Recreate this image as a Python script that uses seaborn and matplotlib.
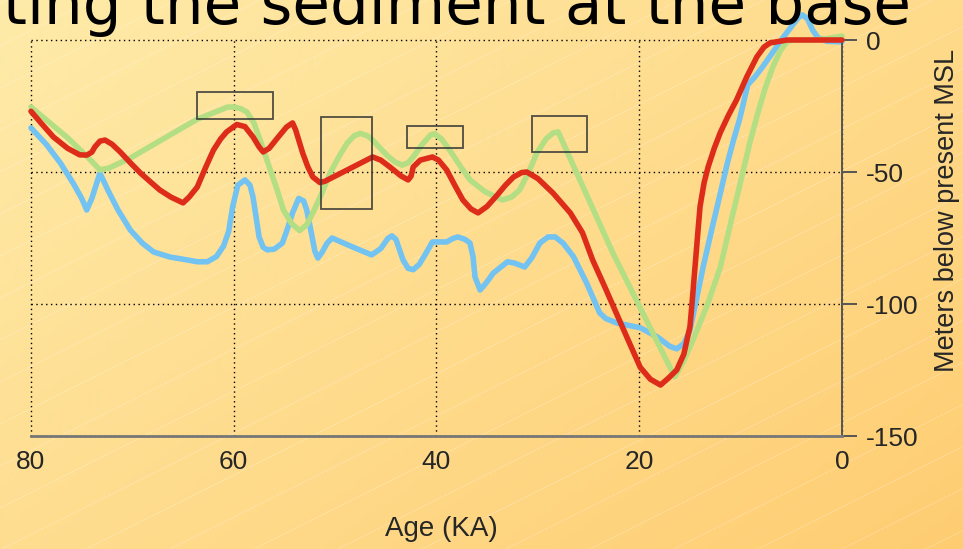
import numpy as np
import pandas as pd
import seaborn as sns
import matplotlib.pyplot as plt
from matplotlib.patches import Rectangle
from matplotlib.colors import to_rgb

# Sea level curves (age in KA, metres relative to present MSL)
red_age = [80, 79, 77.8, 76.4, 75.2, 74.5, 74.0, 73.7, 73.2, 72.7, 72.0, 71.2, 70.2, 69.2, 68.2,
           67.3, 66.2, 65.0, 64.4, 63.6, 62.8, 62.0, 61.3, 60.7, 59.7, 58.9, 58.1, 57.5, 57.1,
           56.5, 55.6, 54.8, 54.2, 53.9, 53.2, 52.7, 52.2, 51.5, 51.0, 48.8, 46.3, 45.5, 44.6,
           43.5, 42.8, 42.5, 42.3, 41.6, 40.4, 39.8, 39.0, 38.2, 37.4, 36.6, 35.9, 35.0, 34.0,
           33.2, 32.4, 31.6, 31.1, 30.0, 28.5, 26.8, 25.6, 24.6, 23.4, 22.2, 21.0, 19.9, 18.9,
           17.9, 17.1, 16.3, 15.6, 15.2, 15.0, 14.8, 14.5, 14.2, 14.0, 13.6, 13.2, 12.6, 12.0,
           11.2, 10.4, 9.4, 8.4, 7.7, 7.1, 5.4, 3.0, 0]
red_val = [-27, -31.5, -36.7, -41, -43.5, -43.6, -42.5, -40.5, -38.3, -37.9, -39.5, -42.4, -46.5, -50.4, -53.8,
           -56.8, -59.5, -61.7, -59.5, -55.7, -48.5, -41.7, -37.5, -34.8, -32, -32.8, -36.7, -40.5, -42.4,
           -41, -36.7, -33, -31.4, -34, -42.8, -48, -51.9, -54, -53.5, -49.2, -44.3, -45.5, -48.1,
           -51.5, -53, -51.5, -48.1, -45.5, -44.3, -45.5, -49.2, -55, -60.6, -64, -65.5, -63, -58.7,
           -55, -51.9, -50.2, -50, -52.5, -58, -65.5, -73, -83.3, -93.5, -104, -114.5, -124, -128.5,
           -130.7, -128, -125, -119, -112, -108.7, -100, -86, -72, -63, -54, -48, -41, -35,
           -28.5, -22.7, -14, -6.4, -2.7, -1.1, 0, 0, 0]

green_age = [80, 76.4, 74.5, 73.2, 72.3, 70.2, 66.3, 63.6, 61.3, 60.6, 60.0, 59.3, 58.7, 58.0,
             57.4, 56.9, 56.4, 55.7, 55.1, 54.3, 53.5, 52.8, 52.2, 51.3, 50.5, 49.6, 48.8, 48.1,
             47.5, 46.8, 46.3, 45.6, 44.9, 44.1, 43.4, 42.8, 42.3, 41.4, 40.6, 40.2, 39.5, 38.7,
             37.7, 36.7, 35.2, 33.5, 32.6, 31.8, 30.9, 30.1, 29.2, 28.5, 28.0, 22.6, 16.5, 15.6,
             14.7, 13.3, 12.0, 10.9, 9.8, 9.1, 8.4, 7.6, 6.8, 6.1, 5.4, 4.8, 3.0, 1.5, 0]
green_val = [-25.4, -37, -44, -49.2, -48.5, -44.7, -36, -30, -26.5, -25.4, -25.4, -26, -27.3, -31.5,
             -37.9, -43.5, -49.2, -57, -64.4, -69.5, -72.2, -70, -65.5, -58, -50.4, -44, -39, -36.2,
             -35.4, -36.3, -37.9, -40.8, -43.6, -46.2, -47.4, -46.5, -44.3, -39.5, -36, -35.5, -37.5, -41.7,
             -47.5, -53, -57.5, -60.6, -59.5, -56.8, -50, -42.8, -37.5, -35.2, -34.8, -80.7, -127.6, -121.5,
             -113.6, -100.5, -86, -68, -50.4, -39, -29, -18.5, -10, -4.2, -0.5, 0, 0, 0.5, 1.5]

blue_age = [80, 78.5, 77.1, 75.8, 75.0, 74.5, 74.0, 73.2, 72.4, 71.4, 70.2, 69.0, 67.9, 66.3,
            64.6, 63.6, 62.6, 61.7, 61.0, 60.5, 60.1, 59.6, 58.9, 58.4, 58.1, 57.8, 57.5, 57.1,
            56.7, 56.0, 55.2, 54.7, 54.2, 53.6, 53.1, 52.8, 52.4, 52.0, 51.7, 51.3, 50.8, 50.3,
            48.4, 46.4, 45.5, 44.8, 44.4, 44.0, 43.6, 43.3, 42.8, 42.3, 41.7, 41.0, 40.4, 39.0,
            38.4, 37.9, 37.2, 36.7, 36.4, 36.2, 35.7, 35.1, 34.4, 33.0, 32.3, 31.3, 30.6, 29.8,
            29.0, 28.3, 27.5, 26.5, 25.2, 23.9, 23.3, 22.2, 19.9, 18.2, 17.0, 16.3, 15.6, 15.0,
            14.4, 13.7, 12.8, 12.0, 11.3, 10.7, 10.1, 9.3, 8.6, 7.8, 6.8, 5.8, 4.8, 4.3, 3.9,
            3.4, 2.9, 2.4, 1.5, 0]
blue_val = [-33.3, -39.5, -46.6, -54.5, -60, -64.4, -60, -50.4, -57, -64.5, -72, -77, -80.3, -82.2,
            -83.3, -84, -84, -82, -78, -72.5, -63, -55, -53, -55, -59.5, -67, -74.6, -78.5,
            -79.5, -79.2, -76.9, -71.5, -65.5, -60, -61, -64.4, -72, -80, -82.6, -80.5, -77, -75,
            -78.2, -81.4, -79, -75.2, -74.2, -75.5, -80, -83.3, -86.5, -87, -85, -80.5, -76.5, -76.5,
            -75.2, -74.6, -75.5, -76.9, -82, -89.8, -94.7, -92, -88.3, -84, -84.5, -86, -82.5, -76.9,
            -74.6, -74.6, -77, -82, -92, -103.4, -105.5, -107.2, -109, -112.5, -116, -117, -115, -110,
            -99, -86, -71, -58, -46.5, -37.9, -30, -17, -14, -10, -4.5, 1, 6, 8.5, 9.5,
            8, 3.8, 1, -0.5, -0.7]

# highlighted boxes: (older edge, younger edge, top, bottom)
box_age0 = [63.6, 51.4, 42.9, 30.6]
box_age1 = [56.1, 46.4, 37.4, 25.2]
box_top = [-19.7, -29.2, -32.6, -28.8]
box_bot = [-29.9, -64.0, -40.9, -42.4]

x_ticks = [80, 60, 40, 20, 0]
y_ticks = [0, -50, -100, -150]

df = pd.concat([
    pd.DataFrame({'age': red_age, 'msl': red_val, 'curve': 'red'}),
    pd.DataFrame({'age': green_age, 'msl': green_val, 'curve': 'green'}),
    pd.DataFrame({'age': blue_age, 'msl': blue_val, 'curve': 'blue'}),
])

sns.set_style('white')
plt.rcParams['font.family'] = ['Liberation Sans', 'DejaVu Sans']
plt.rcParams['axes.unicode_minus'] = False

W, H = 963, 549
fig = plt.figure(figsize=(W / 100, H / 100), dpi=100)

# gradient background with faint diagonal stripes
bg = fig.add_axes([0, 0, 1, 1], zorder=-5)
c0 = np.array(to_rgb('#FEEBA9'))
c1 = np.array(to_rgb('#FECD72'))
gx, gy = np.meshgrid(np.linspace(0, 1, 200), np.linspace(0, 1, 120))
t = np.clip(0.55 * gx + 0.45 * gy, 0, 1)[..., None]
bg.imshow(c0 * (1 - t) + c1 * t, extent=[0, W, H, 0], aspect='auto')
for y0 in np.arange(-500, 1100, 42):
    bg.plot([0, W], [y0, y0 - 0.5 * W], color='white', lw=0.6, alpha=0.3, ls=(0, (4, 1)))
bg.set_xlim(0, W)
bg.set_ylim(H, 0)
bg.set_axis_off()

# title of the slide, cut off at the top edge as in the original
fig.text(3 / W, 1 - 24 / H, 'ting the sediment at the base', fontsize=44,
         family=['DejaVu Sans'], va='baseline', ha='left', color='black')

ax = fig.add_axes([31 / W, 1 - 436 / H, (842 - 31) / W, 396 / H])
ax.set_facecolor('none')

palette = {'red': '#DD2C1A', 'green': '#B3DE84', 'blue': '#72C2F2'}
zorders = {'blue': 2, 'green': 3, 'red': 4}
for name in ['blue', 'green', 'red']:
    sns.lineplot(data=df[df['curve'] == name], x='age', y='msl', color=palette[name],
                 lw=4.0, sort=False, estimator=None, ax=ax, zorder=zorders[name],
                 clip_on=False, solid_joinstyle='round', solid_capstyle='round')

for a0, a1, tp, bt in zip(box_age0, box_age1, box_top, box_bot):
    ax.add_patch(Rectangle((a1, bt), a0 - a1, tp - bt, fill=False,
                           edgecolor='#333333', lw=1.3, alpha=0.85, zorder=6))

ax.set_xlim(80, 0)
ax.set_ylim(-150, 0)
ax.set_xticks(x_ticks)
ax.set_yticks(y_ticks)
ax.yaxis.tick_right()
ax.grid(True, color='black', ls=(0, (1, 2.5)), lw=1.0, zorder=1)
for gl in ax.get_xgridlines() + ax.get_ygridlines():
    gl.set_clip_on(False)

ax.spines['left'].set_visible(False)
ax.spines['top'].set_visible(False)
ax.spines['right'].set_color('#555555')
ax.spines['right'].set_linewidth(1.4)
ax.spines['bottom'].set_color('#777777')
ax.spines['bottom'].set_linewidth(2)
ax.tick_params(axis='x', length=7, width=2, color='#777777', labelsize=19, pad=3)
ax.tick_params(axis='y', length=11, width=1.4, color='#555555', labelsize=19, pad=6,
               right=True, left=False)

ax.set_xlabel('Age (KA)', fontsize=20, va='bottom', ha='center')
ax.xaxis.set_label_coords(0.5055, -0.268)
ax.set_ylabel('Meters below present MSL', fontsize=19.5, va='center', ha='center', rotation=90)
ax.yaxis.set_label_coords(1.13, 0.57)

fig.savefig('out.png', dpi=100)
